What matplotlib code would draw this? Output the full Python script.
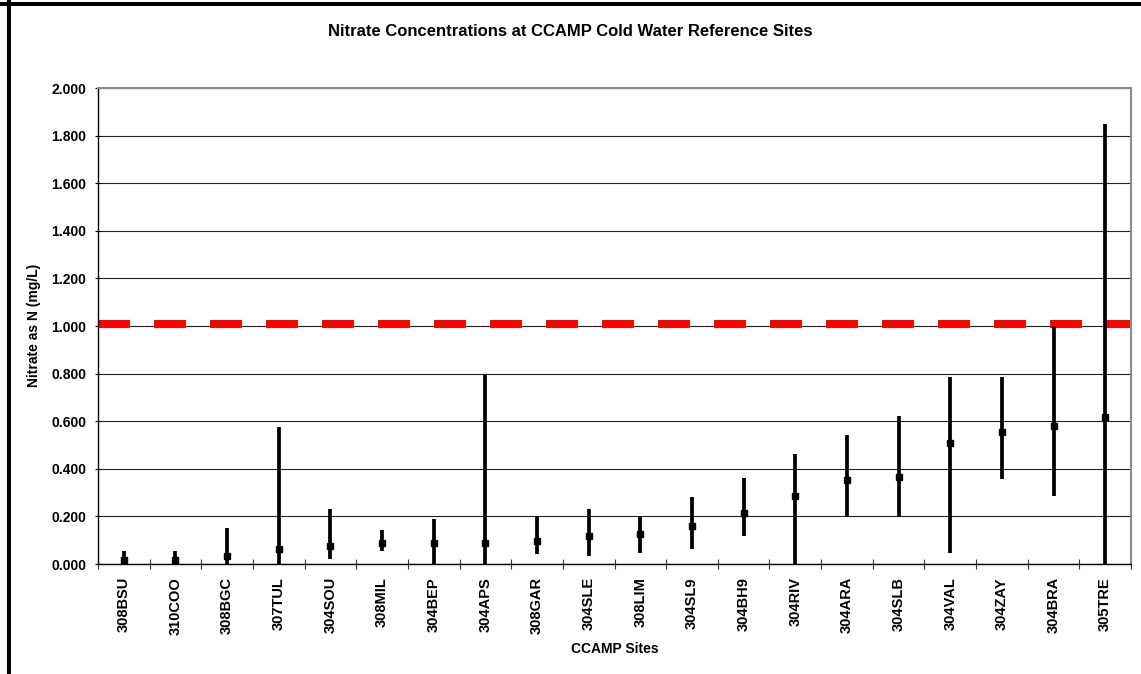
# Nitrate concentrations at CCAMP cold water reference sites
#

import matplotlib
matplotlib.use('Agg')
import matplotlib.pyplot as plt
from matplotlib.lines import Line2D
from matplotlib.ticker import FixedLocator, FormatStrFormatter

sites = ['308BSU', '310COO', '308BGC', '307TUL', '304SOU', '308MIL', '304BEP',
         '304APS', '308GAR', '304SLE', '308LIM', '304SL9', '304BH9', '304RIV',
         '304ARA', '304SLB', '304VAL', '304ZAY', '304BRA', '305TRE']
means = [0.017, 0.017, 0.034, 0.064, 0.077, 0.090, 0.090, 0.090, 0.098, 0.119,
         0.127, 0.161, 0.213, 0.287, 0.354, 0.367, 0.510, 0.556, 0.581, 0.619]
maxs = [0.055, 0.055, 0.153, 0.574, 0.231, 0.143, 0.190, 0.794, 0.203, 0.231,
        0.203, 0.283, 0.361, 0.462, 0.543, 0.623, 0.784, 0.784, 1.000, 1.847]
mins = [0.0, 0.0, 0.0, 0.0, 0.020, 0.055, 0.0, 0.0, 0.041, 0.035,
        0.046, 0.062, 0.116, 0.0, 0.196, 0.196, 0.047, 0.357, 0.287, 0.0]
standard = 1.01

plt.rcParams['font.family'] = ['Liberation Sans', 'DejaVu Sans']
plt.rcParams['font.weight'] = 'bold'

W, H = 1141, 674
fig = plt.figure(figsize=(W / 100, H / 100), dpi=100)
ax = fig.add_axes([98 / W, 1 - 564 / H, (1131 - 98) / W, (564 - 88) / H])

x = list(range(len(sites)))

ax.set_xlim(-0.5, len(sites) - 0.5)
ax.set_ylim(0, 2.0)

# gridlines
ax.yaxis.grid(True, color='#222222', linewidth=0.8)
ax.set_axisbelow(True)

# standard line
ax.axhline(standard, color='#ff0000', linewidth=5.76, dashes=(4, 3),
           dash_capstyle='butt', zorder=2)

# range lines and means
ax.vlines(x, mins, maxs, color='black', linewidth=2.7, zorder=3)
ax.plot(x, means, 's', color='black', markersize=4.6, zorder=4, clip_on=False)

# y axis
ax.yaxis.set_major_locator(FixedLocator([i * 0.2 for i in range(11)]))
ax.yaxis.set_major_formatter(FormatStrFormatter('%.3f'))
ax.tick_params(axis='y', direction='inout', length=5, width=0.8, pad=6,
               labelsize=10)

# x axis: ticks between categories, labels at centres
ax.xaxis.set_major_locator(FixedLocator([i - 0.5 for i in range(len(sites) + 1)]))
ax.xaxis.set_minor_locator(FixedLocator(x))
ax.set_xticklabels([], minor=False)
ax.set_xticklabels(sites, minor=True, rotation=90, fontsize=10.5,
                   fontweight='bold')
ax.tick_params(axis='x', which='major', direction='inout', length=7.2,
               width=0.8, color='#333333')
ax.tick_params(axis='x', which='minor', length=0, pad=9.4)

for side in ['left', 'bottom']:
    ax.spines[side].set_color('black')
    ax.spines[side].set_linewidth(1.0)
for side in ['top', 'right']:
    ax.spines[side].set_color('#8c8c8c')
    ax.spines[side].set_linewidth(1.5)

fig.text(0.5, 1 - 31 / H, 'Nitrate Concentrations at CCAMP Cold Water Reference Sites',
         ha='center', va='center', fontsize=12, fontweight='bold')
fig.text(615 / W, 1 - 649 / H, 'CCAMP Sites', ha='center', va='center',
         fontsize=10, fontweight='bold')
fig.text(34 / W, 1 - 325 / H, 'Nitrate as N (mg/L)', ha='center', va='center',
         rotation=90, fontsize=10, fontweight='bold')

# outer chart frame (top and left edges visible)
fig.add_artist(Line2D([0, 1], [1 - 4 / H, 1 - 4 / H], transform=fig.transFigure,
                      color='black', linewidth=2.9))
fig.add_artist(Line2D([9 / W, 9 / W], [0, 1 - 2 / H], transform=fig.transFigure,
                      color='black', linewidth=2.9))

fig.savefig('out.png', dpi=100)
